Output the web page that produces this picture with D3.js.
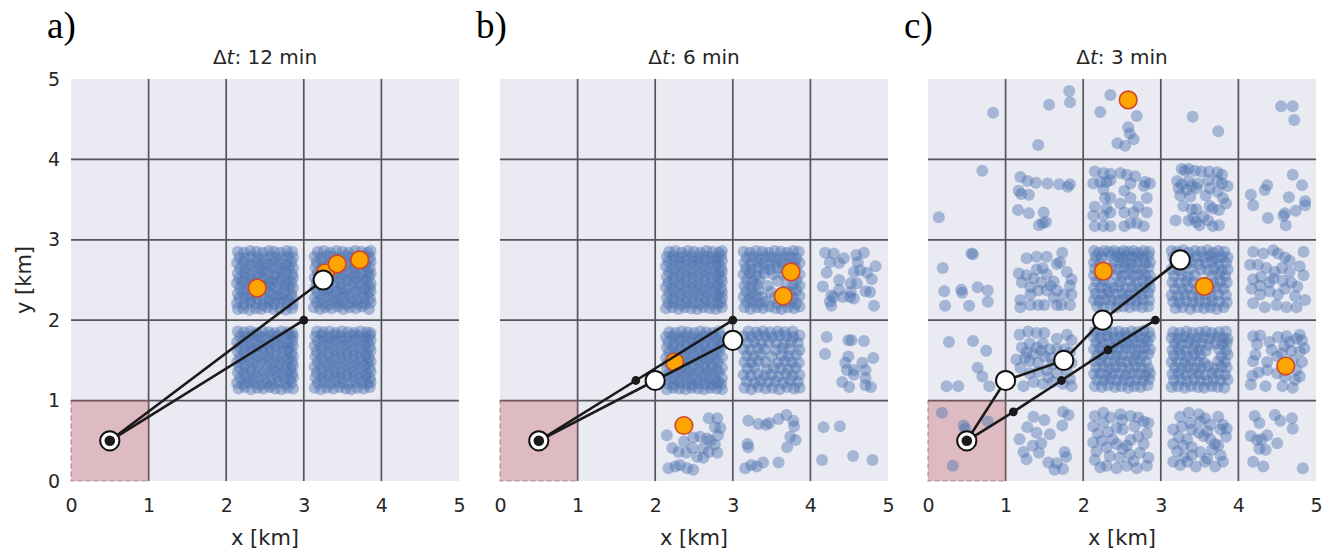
<!DOCTYPE html>
<html>
<head>
<meta charset="utf-8">
<script src="https://cdn.jsdelivr.net/npm/d3@7"></script>
<style>
body { margin: 0; background: #fff; }
text { font-family: "DejaVu Sans", sans-serif; fill: #262626; }
</style>
</head>
<body>
<svg id="chart" width="1333" height="554"></svg>
<script>
// panel captions
var panelLetters = ["a)", "b)", "c)"];
var panelTimes = ["12 min", "6 min", "3 min"];
var tickValues = [0, 1, 2, 3, 4, 5];
var gridValues = [1, 2, 3, 4];
var startCell = [0, 0];
var startPoint = [0.5, 0.5];

// paths of the two walkers (km)
var whitePaths = [
    [[0.5, 0.5], [3.25, 2.5]],
    [[0.5, 0.5], [2.0, 1.25], [3.0, 1.75]],
    [[0.5, 0.5], [1.0, 1.25], [1.75, 1.5], [2.25, 2.0], [3.25, 2.75]]
];
var blackPaths = [
    [[0.5, 0.5], [3.0, 2.0]],
    [[0.5, 0.5], [1.75, 1.25], [3.0, 2.0]],
    [[0.5, 0.5], [1.1, 0.86], [1.72, 1.25], [2.32, 1.63], [2.93, 2.0]]
];

// highlighted (orange) samples (km)
var orangeA = [[2.4, 2.4], [3.28, 2.59], [3.43, 2.7], [3.72, 2.75]];
var orangeB = [[3.75, 2.6], [3.65, 2.3], [2.25, 1.48], [2.37, 0.69]];
var orangeC = [[2.58, 4.74], [2.26, 2.61], [3.56, 2.42], [4.61, 1.43]];

// blue samples: [column, row, [dx, dy, dx, dy, ...]] offsets inside the cell in 1/100 km
var pointsA = [
 [2, 2, [15,14, 22,15, 30,13, 38,15, 45,14, 53,16, 61,14, 69,15, 77,13, 85,15,
         14,21, 23,20, 31,22, 39,21, 47,19, 55,22, 62,20, 70,22, 78,21, 86,20,
         17,27, 25,28, 32,26, 40,28, 49,27, 56,26, 64,28, 72,27, 80,26, 85,28,
         15,33, 22,34, 30,32, 38,34, 46,33, 54,35, 61,33, 69,32, 76,34, 84,33,
         18,40, 26,39, 34,41, 42,40, 50,39, 57,41, 65,40, 73,39, 81,41, 86,40,
         14,46, 21,47, 29,45, 37,47, 45,46, 53,45, 60,47, 68,46, 76,45, 84,47,
         17,52, 25,53, 33,51, 41,53, 48,52, 56,51, 64,53, 71,52, 79,51, 86,53,
         15,58, 23,59, 31,57, 39,58, 46,60, 54,58, 62,57, 70,59, 77,58, 85,57,
         18,65, 26,64, 34,66, 42,65, 50,64, 58,66, 65,65, 73,64, 81,66, 86,65,
         14,71, 22,72, 30,70, 38,72, 46,71, 53,70, 61,72, 69,71, 77,70, 84,72,
         17,78, 25,77, 33,79, 41,78, 49,77, 57,79, 64,78, 72,77, 80,79, 86,78,
         15,85, 23,84, 31,86, 39,85, 47,84, 55,86, 62,85, 70,84, 78,86, 85,85]],
 [3, 2, [13,16, 21,14, 28,16, 36,15, 44,17, 51,14, 59,16, 67,15, 75,17, 84,14,
         17,22, 25,21, 33,20, 41,22, 48,21, 56,20, 63,22, 71,21, 79,20, 86,22,
         14,28, 22,27, 30,29, 38,28, 46,27, 53,29, 61,28, 69,26, 77,28, 85,27,
         18,34, 26,35, 34,33, 42,35, 50,34, 58,33, 66,35, 74,34, 82,33, 86,36,
         15,40, 23,41, 31,39, 39,41, 47,40, 54,39, 62,41, 70,40, 78,39, 85,41,
         17,47, 25,46, 33,48, 41,47, 49,46, 57,48, 65,47, 73,46, 81,48, 86,46,
         14,53, 22,54, 30,52, 38,54, 46,53, 54,52, 62,54, 69,53, 77,52, 84,54,
         18,59, 26,58, 34,60, 42,59, 50,58, 58,60, 66,59, 74,58, 82,60, 86,58,
         15,66, 23,65, 31,67, 39,66, 47,65, 55,67, 63,66, 71,65, 79,67, 85,65,
         17,72, 25,73, 33,71, 41,73, 49,72, 57,71, 64,73, 72,72, 80,71, 86,73,
         14,79, 22,78, 30,80, 38,79, 46,78, 54,80, 62,79, 70,78, 78,80, 85,78,
         18,85, 26,86, 34,84, 42,86, 50,85, 58,84, 66,86, 74,85, 82,84, 86,86]],
 [2, 1, [16,15, 24,17, 32,14, 40,16, 48,15, 56,17, 63,15, 71,14, 79,16, 86,15,
         14,22, 22,21, 29,23, 37,22, 45,20, 52,22, 60,21, 68,23, 76,21, 84,22,
         18,28, 26,29, 34,27, 42,29, 50,28, 58,27, 66,29, 74,28, 82,27, 86,29,
         15,35, 23,34, 31,36, 39,35, 47,34, 55,36, 63,35, 71,34, 79,36, 85,34,
         17,41, 25,42, 33,40, 41,42, 52,41, 60,40, 67,42, 75,41, 83,40, 86,43,
         14,48, 22,47, 30,49, 38,48, 46,47, 54,49, 62,48, 70,47, 78,49, 85,48,
         18,54, 26,55, 34,53, 42,55, 50,54, 57,53, 65,55, 73,54, 81,53, 86,55,
         15,61, 23,60, 31,62, 39,61, 47,60, 55,62, 63,61, 71,60, 79,62, 84,60,
         17,67, 25,68, 33,66, 41,68, 49,67, 57,66, 65,68, 73,67, 81,66, 86,68,
         14,73, 22,74, 30,72, 38,74, 46,73, 54,72, 62,74, 70,73, 78,72, 85,74,
         18,80, 26,79, 34,81, 42,80, 50,79, 58,81, 66,80, 74,79, 82,81, 86,80,
         15,86, 23,85, 31,86, 39,84, 47,86, 55,85, 63,84, 71,86, 79,85, 85,84]],
 [3, 1, [14,16, 22,14, 30,16, 38,15, 46,17, 54,15, 61,14, 69,16, 77,15, 85,17,
         18,22, 26,23, 34,21, 42,23, 50,22, 58,21, 66,23, 74,22, 82,21, 86,23,
         15,29, 23,28, 31,30, 39,29, 47,28, 55,30, 63,29, 71,28, 79,30, 85,28,
         17,35, 25,36, 33,34, 41,36, 49,35, 57,34, 65,36, 73,35, 81,34, 86,36,
         14,42, 22,41, 30,43, 38,42, 46,41, 54,43, 62,42, 70,41, 78,43, 85,41,
         18,48, 26,49, 34,47, 42,49, 50,48, 58,47, 66,49, 74,48, 82,47, 86,49,
         15,55, 23,54, 31,56, 39,55, 47,54, 55,56, 63,55, 71,54, 79,56, 84,54,
         17,61, 25,62, 33,60, 41,62, 49,61, 57,60, 65,62, 73,61, 81,60, 86,62,
         14,68, 22,67, 30,69, 38,68, 46,67, 54,69, 62,68, 70,67, 78,69, 85,67,
         18,74, 26,75, 34,73, 42,75, 50,74, 58,73, 66,75, 74,74, 82,73, 86,75,
         15,80, 23,81, 31,79, 39,81, 47,80, 55,79, 63,81, 71,80, 79,79, 85,81,
         17,86, 25,85, 33,86, 41,84, 49,86, 57,85, 65,84, 73,86, 81,85, 86,84]]
];

var pointsB = [
 [2, 2, [14,15, 22,16, 30,14, 38,16, 46,15, 54,14, 62,16, 70,15, 78,14, 86,16,
         17,21, 25,22, 33,20, 41,22, 49,21, 57,20, 65,22, 73,21, 81,20, 85,22,
         15,28, 23,27, 31,29, 39,28, 47,27, 55,29, 63,28, 71,27, 79,29, 86,28,
         18,34, 26,35, 34,33, 42,35, 50,34, 58,33, 66,35, 74,34, 82,33, 86,35,
         14,41, 22,40, 30,42, 38,41, 46,40, 54,42, 62,41, 70,40, 78,42, 85,40,
         17,47, 25,48, 33,46, 41,48, 49,47, 57,46, 65,48, 73,47, 81,46, 86,48,
         15,54, 23,53, 31,55, 39,54, 47,53, 55,55, 63,54, 71,53, 79,55, 85,53,
         18,60, 26,61, 34,59, 42,61, 50,60, 58,59, 66,61, 74,60, 82,59, 86,61,
         14,67, 22,66, 30,68, 38,67, 46,66, 54,68, 62,67, 70,66, 78,68, 85,66,
         17,73, 25,74, 33,72, 41,74, 49,73, 57,72, 65,74, 73,73, 81,72, 86,74,
         15,79, 23,80, 31,78, 39,80, 47,79, 55,78, 63,80, 71,79, 79,78, 85,80,
         18,85, 26,86, 34,84, 42,86, 50,85, 58,84, 66,86, 74,85, 82,84, 86,86]],
 [3, 2, [15,16, 23,14, 31,16, 39,15, 47,17, 55,15, 63,14, 71,16, 79,15, 86,17,
         18,22, 26,23, 34,21, 42,23, 58,21, 66,23, 74,22, 82,21,
         14,29, 22,28, 30,30, 38,29, 54,28, 62,30, 70,29, 78,28, 86,30,
         17,36, 25,35, 33,37, 49,35, 66,36, 74,35, 82,37,
         15,43, 23,42, 31,44, 45,43, 70,42, 78,44, 86,43,
         18,50, 26,49, 34,51, 58,49, 82,50,
         14,57, 22,58, 30,56, 40,58, 52,57, 66,56, 74,58, 86,57,
         17,64, 25,63, 33,65, 41,64, 49,63, 57,65, 65,64, 73,63, 81,65,
         15,71, 23,70, 31,72, 39,71, 47,70, 55,72, 63,71, 71,70, 79,72, 86,71,
         18,78, 26,79, 34,77, 42,79, 50,78, 58,77, 66,79, 74,78, 82,77,
         14,85, 22,84, 30,86, 38,85, 46,84, 54,86, 62,85, 70,84, 78,86, 85,85]],
 [2, 1, [15,14, 23,16, 31,15, 39,14, 47,16, 55,15, 63,14, 71,16, 79,15, 86,14,
         17,21, 25,20, 33,22, 41,21, 49,20, 57,22, 65,21, 73,20, 81,22, 85,21,
         14,27, 22,28, 30,26, 38,28, 46,27, 54,26, 62,28, 70,27, 78,26, 86,28,
         18,34, 26,33, 34,35, 42,34, 50,33, 58,35, 66,34, 74,33, 82,35,
         15,40, 23,41, 31,39, 39,41, 47,40, 55,39, 63,41, 71,40, 79,39, 86,41,
         17,47, 25,46, 33,48, 41,47, 49,46, 57,48, 65,47, 73,46, 81,48,
         14,53, 22,54, 30,52, 38,54, 46,53, 54,52, 62,54, 70,53, 78,52, 86,54,
         18,60, 26,59, 34,61, 42,60, 50,59, 58,61, 66,60, 74,59, 82,61,
         15,66, 23,67, 31,65, 39,67, 47,66, 55,65, 63,67, 71,66, 79,65, 85,67,
         17,73, 25,72, 33,74, 41,73, 49,72, 57,74, 65,73, 73,72, 81,74, 86,72,
         14,79, 22,80, 30,78, 38,80, 46,79, 54,78, 62,80, 70,79, 78,78, 85,80,
         18,85, 26,84, 34,86, 42,85, 50,84, 58,86, 66,85, 74,84, 82,86]],
 [3, 1, [15,16, 24,14, 33,17, 42,15, 51,16, 60,14, 70,17, 79,15, 86,16,
         18,24, 28,22, 36,25, 46,23, 55,24, 65,22, 74,25, 84,23,
         14,32, 23,31, 32,33, 41,31, 50,32, 59,30, 68,33, 77,31, 86,32,
         19,40, 28,41, 44,39, 53,41, 62,40, 72,39, 81,41,
         15,48, 24,47, 33,49, 42,48, 58,47, 67,49, 76,48, 85,47,
         18,56, 27,55, 36,57, 50,55, 63,56, 72,55, 82,57,
         14,64, 23,63, 32,65, 41,64, 55,63, 64,65, 73,64, 86,63,
         19,72, 28,73, 37,71, 46,73, 56,72, 66,71, 75,73, 84,72,
         15,80, 24,79, 33,81, 42,80, 51,79, 60,81, 69,80, 78,79, 86,81,
         20,86, 30,85, 39,86, 48,85, 58,86, 67,85, 77,86]],
 [4, 2, [19,84, 30,83, 25,72, 37,71, 43,77, 59,81, 69,84, 61,72, 84,67, 21,59,
         37,50, 56,60, 64,62, 73,59, 79,51, 16,42, 52,46, 60,46, 27,31, 30,29,
         42,29, 51,29, 56,27, 71,36, 77,35, 82,18, 27,18, 25,23, 52,35, 37,38]],
 [4, 1, [21,79, 19,58, 49,75, 53,75, 69,74, 49,55, 45,47, 56,38, 67,47, 81,53,
         71,38, 41,23, 50,17, 71,28, 71,19, 78,17, 47,38, 56,32]],
 [4, 0, [17,67, 38,68, 15,26, 55,31, 80,26]],
 [3, 0, [20,75, 33,71, 43,70, 47,72, 59,77, 69,82, 78,75, 79,68, 74,55, 70,42,
         81,51, 19,46, 20,42, 59,23, 39,23, 31,18, 16,16, 24,20]],
 [2, 0, [15,57, 69,78, 80,78, 77,67, 84,66, 58,55, 67,53, 49,54, 37,49, 22,41,
         30,36, 40,35, 48,41, 62,41, 69,36, 80,35, 54,30, 62,29, 17,16, 26,18,
         32,20, 41,16, 49,14, 77,45, 71,50, 81,57]]
];

var pointsC = [
 [0, 4, [84,58]],
 [1, 4, [82,85, 83,71, 56,68, 42,18]],
 [2, 4, [35,80, 22,59, 69,54, 58,40, 65,25, 44,20, 54,17, 60,32]],
 [3, 4, [41,53, 74,35]],
 [4, 4, [55,66, 70,66, 72,49]],
 [0, 3, [70,86, 14,28]],
 [1, 3, [19,78, 28,73, 39,71, 54,70, 69,69, 83,69, 80,66, 17,61, 20,57, 30,56,
         16,37, 30,33, 49,34, 52,22, 43,18, 48,21]],
 [2, 3, [15,85, 26,83, 35,82, 48,83, 56,81, 67,79, 80,72, 86,70, 13,70, 22,72,
         30,72, 26,63, 35,52, 30,39, 26,30, 13,30, 15,17, 26,17, 35,17, 15,41,
         53,61, 61,70, 61,52, 71,41, 65,34, 82,52, 53,34, 61,21, 78,17, 82,34,
         69,21, 48,45, 35,74, 53,17, 35,34, 28,52, 78,67]],
 [3, 3, [27,88, 31,86, 36,88, 44,86, 52,85, 62,85, 73,84, 79,81, 21,73, 27,69,
         36,73, 40,67, 48,70, 61,74, 73,74, 79,70, 86,67, 23,64, 33,62, 46,64,
         63,64, 73,60, 25,55, 38,54, 80,52, 29,42, 40,38, 46,38, 63,42, 67,39,
         75,37, 19,24, 36,24, 46,22, 50,18, 61,24, 67,17, 75,18, 55,29, 42,27,
         84,45, 58,55]],
 [4, 3, [70,81, 82,68, 37,68, 34,62, 16,56, 19,43, 65,53, 86,48, 86,43, 74,36,
         60,33, 58,30, 38,27, 61,18]],
 [0, 2, [56,83, 58,82, 19,65, 21,36, 43,38, 44,34, 64,41, 77,37, 22,18, 53,18, 77,23]],
 [1, 2, [27,77, 40,79, 53,79, 73,84, 66,70, 17,58, 27,56, 21,47, 40,63, 48,65,
         53,57, 62,48, 58,43, 79,60, 85,51, 83,43, 85,32, 83,19, 72,19, 62,28,
         53,37, 42,37, 32,32, 19,25, 19,16, 32,19, 42,19, 32,41, 66,37, 46,47,
         36,52, 75,32, 66,19, 50,19, 70,72]],
 [2, 2, [14,86, 20,84, 27,86, 33,85, 40,86, 46,84, 52,86, 58,85, 65,86, 71,84, 78,86, 85,85,
         16,79, 24,78, 35,80, 44,79, 50,78, 57,80, 63,78, 70,79, 77,78, 84,80,
         14,72, 22,71, 40,73, 47,71, 55,72, 62,70, 70,73, 80,71, 86,72,
         15,64, 36,65, 45,63, 53,66, 60,64, 68,65, 76,63, 84,66,
         14,56, 22,55, 30,57, 43,56, 50,55, 57,57, 65,55, 72,57, 80,56, 86,55,
         17,48, 26,49, 34,47, 48,48, 60,49, 69,47, 77,49, 85,48,
         14,40, 23,41, 30,39, 39,40, 46,42, 55,40, 63,41, 71,39, 79,41, 86,40,
         16,33, 25,32, 33,34, 42,32, 51,33, 58,31, 67,33, 75,32, 84,34,
         14,25, 21,24, 29,26, 37,25, 45,24, 53,26, 61,25, 69,24, 77,26, 85,25,
         18,17, 26,16, 35,18, 43,16, 52,17, 60,16, 68,18, 76,16, 84,17]],
 [3, 2, [14,86, 21,85, 29,87, 36,84, 44,86, 52,85, 60,87, 67,84, 74,86, 82,85,
         16,78, 27,79, 35,77, 46,79, 55,78, 63,80, 71,77, 79,79, 86,78,
         18,71, 33,70, 41,72, 49,70, 58,71, 66,73, 74,70, 84,71,
         14,63, 24,62, 38,64, 52,63, 61,62, 69,64, 78,62, 86,63,
         17,55, 27,56, 35,54, 44,56, 66,55, 75,57, 83,55,
         15,47, 24,46, 33,48, 42,47, 68,46, 77,48, 85,47,
         18,39, 28,38, 36,40, 45,38, 63,39, 72,41, 81,39,
         14,31, 22,30, 31,32, 40,30, 49,31, 57,33, 65,30, 74,32, 84,31,
         16,23, 24,22, 33,24, 41,22, 50,24, 58,22, 66,24, 75,23, 85,22,
         19,15, 28,16, 38,14, 47,16, 56,15, 64,16, 72,14, 81,16]],
 [4, 2, [19,85, 32,83, 45,87, 51,83, 60,78, 84,85, 15,69, 25,69, 36,65, 47,60,
         56,65, 66,60, 79,67, 84,56, 19,51, 29,54, 40,47, 57,49, 68,47, 76,42,
         17,39, 28,32, 40,36, 51,32, 60,39, 73,30, 86,25, 19,21, 34,16, 49,19,
         62,16, 75,16, 45,52, 66,74, 28,43]],
 [0, 1, [27,73, 58,74, 75,62, 64,41, 70,30, 79,18, 24,18, 39,18]],
 [1, 1, [18,82, 29,86, 40,84, 50,84, 66,77, 79,82, 85,75, 21,66, 31,71, 40,66,
         48,71, 57,64, 66,64, 76,64, 83,60, 14,51, 25,53, 31,49, 42,47, 50,55,
         59,53, 85,47, 19,41, 31,34, 42,36, 53,38, 66,34, 79,36, 83,27, 36,23,
         48,21, 61,23, 74,21, 85,18, 23,18, 27,60, 46,62, 70,47, 79,53, 55,29,
         60,45, 36,58]],
 [2, 1, [15,86, 23,85, 30,87, 38,85, 46,86, 54,84, 62,86, 70,85, 78,87, 85,85,
         14,79, 22,78, 31,80, 40,78, 48,79, 56,80, 64,78, 72,79, 80,77, 86,79,
         17,72, 26,71, 34,73, 43,71, 51,72, 59,70, 67,72, 75,71, 83,73,
         14,64, 22,65, 30,63, 38,65, 47,64, 55,66, 63,64, 71,63, 79,65, 86,64,
         18,57, 26,56, 35,58, 43,56, 51,57, 60,55, 68,57, 76,56, 84,58,
         15,49, 23,50, 31,48, 40,50, 48,49, 56,48, 65,50, 73,49, 81,48,
         17,41, 26,42, 34,40, 42,42, 50,41, 59,40, 67,42, 75,41, 84,40,
         14,33, 22,34, 30,32, 38,34, 47,33, 55,32, 63,34, 72,33, 80,32, 86,34,
         18,26, 27,25, 35,27, 43,25, 52,26, 60,24, 68,26, 77,25, 85,27,
         15,18, 24,17, 32,19, 41,17, 49,18, 58,16, 66,18, 74,17, 83,19]],
 [3, 1, [16,85, 24,84, 33,86, 41,84, 50,85, 58,86, 66,84, 75,85, 84,86,
         14,78, 22,77, 30,79, 38,77, 47,78, 55,79, 63,77, 72,79, 80,78, 86,77,
         18,71, 27,70, 35,72, 44,70, 52,71, 61,69, 70,71, 79,70, 85,72,
         15,63, 23,64, 32,62, 41,64, 49,63, 58,62, 75,64, 84,63,
         17,56, 26,57, 34,55, 43,57, 51,56, 78,55, 86,57,
         14,48, 22,49, 31,47, 39,49, 48,48, 56,47, 74,49, 83,48,
         18,41, 27,40, 35,42, 44,40, 52,41, 61,43, 69,40, 78,42, 85,41,
         15,33, 23,34, 32,32, 40,34, 49,33, 57,32, 66,34, 74,33, 83,32,
         17,25, 26,26, 34,24, 43,26, 51,25, 60,24, 68,26, 77,25, 86,26,
         14,17, 22,18, 31,16, 39,18, 48,17, 56,16, 65,18, 73,17, 82,16]],
 [4, 1, [19,80, 28,81, 24,70, 40,73, 43,63, 22,57, 19,49, 37,48, 18,31, 26,35,
         37,38, 35,18, 16,20, 57,18, 70,16, 73,26, 79,30, 75,38, 82,48, 79,61,
         85,65, 82,75, 75,77, 66,73, 68,62, 59,68, 56,59, 50,55, 51,79, 62,80,
         79,82, 70,50, 50,34, 60,30]],
 [0, 0, [18,85, 46,69, 48,65, 77,74, 32,19]],
 [1, 0, [36,80, 81,82, 28,67, 40,60, 73,69, 46,47, 23,36, 27,27, 43,35, 55,23,
         66,22, 76,36, 74,15, 63,14, 74,86, 78,30, 35,44, 57,58, 18,52, 50,76]],
 [2, 0, [15,81, 26,85, 35,79, 48,83, 61,81, 71,79, 78,74, 84,72, 13,68, 19,59,
         13,48, 17,37, 15,26, 22,17, 32,61, 43,66, 51,64, 66,68, 82,59, 71,55,
         61,51, 43,46, 30,42, 34,31, 47,29, 60,33, 73,35, 84,29, 30,19, 43,16,
         56,19, 69,16, 82,19, 51,40, 26,72, 78,46, 24,50, 50,76, 38,52, 65,25, 56,44]],
 [3, 0, [25,80, 36,85, 49,83, 57,78, 74,80, 80,70, 16,64, 27,68, 38,72, 51,74,
         64,70, 77,64, 85,65, 23,55, 34,52, 29,44, 40,42, 55,56, 64,52, 70,46,
         74,44, 66,39, 21,37, 40,32, 51,36, 77,32, 16,24, 34,24, 60,28, 80,24,
         25,20, 49,60, 16,46, 57,24, 40,64, 45,18, 70,18, 30,30, 84,55, 60,62]],
 [4, 0, [21,81, 47,82, 54,75, 69,78, 70,65, 27,72, 16,56, 24,51, 30,52, 37,57,
         50,47, 27,40, 19,24, 32,18, 83,16, 35,39]]
];

var panelPoints = [pointsA, pointsB, pointsC];
var panelOrange = [orangeA, orangeB, orangeC];

var svg = d3.select("#chart");
var panelLeft = [71, 500, 928];
var plotW = 388, plotTop = 79, plotBottom = 481;

// turn cell lists into [x, y] km points
function cellPoints(cells) {
    var out = [];
    cells.forEach(function (c) {
        var offs = c[2];
        for (var i = 0; i < offs.length; i += 2) {
            out.push([c[0] + offs[i] / 100, c[1] + offs[i + 1] / 100]);
        }
    });
    return out;
}

panelLeft.forEach(function (left, p) {
    var x = d3.scaleLinear().domain([0, 5]).range([left, left + plotW]);
    var y = d3.scaleLinear().domain([0, 5]).range([plotBottom, plotTop]);
    var g = svg.append("g");

    // background
    g.append("rect")
        .attr("x", x(0)).attr("y", y(5))
        .attr("width", x(5) - x(0)).attr("height", y(0) - y(5))
        .attr("fill", "#eaeaf2");

    // grid
    g.selectAll(".vg").data(gridValues).enter().append("line")
        .attr("x1", function (d) { return x(d); }).attr("x2", function (d) { return x(d); })
        .attr("y1", y(0)).attr("y2", y(5))
        .attr("stroke", "#55555d").attr("stroke-width", 1.7);
    g.selectAll(".hg").data(gridValues).enter().append("line")
        .attr("y1", function (d) { return y(d); }).attr("y2", function (d) { return y(d); })
        .attr("x1", x(0)).attr("x2", x(5))
        .attr("stroke", "#55555d").attr("stroke-width", 1.7);

    // start cell
    g.append("rect")
        .attr("x", x(startCell[0])).attr("y", y(startCell[1] + 1))
        .attr("width", x(1) - x(0)).attr("height", y(0) - y(1))
        .attr("fill", "#c44e52").attr("fill-opacity", 0.3)
        .attr("stroke", "#8c5a62").attr("stroke-opacity", 0.6)
        .attr("stroke-width", 1.2).attr("stroke-dasharray", "5,3");

    // blue samples
    g.selectAll(".pt").data(cellPoints(panelPoints[p])).enter().append("circle")
        .attr("cx", function (d) { return x(d[0]); })
        .attr("cy", function (d) { return y(d[1]); })
        .attr("r", 6)
        .attr("fill", "#4c72b0").attr("fill-opacity", 0.44);

    // orange samples
    g.selectAll(".or").data(panelOrange[p]).enter().append("circle")
        .attr("cx", function (d) { return x(d[0]); })
        .attr("cy", function (d) { return y(d[1]); })
        .attr("r", 8.8)
        .attr("fill", "#ffa500").attr("stroke", "#d2452a").attr("stroke-width", 1.6);

    var line = d3.line().x(function (d) { return x(d[0]); }).y(function (d) { return y(d[1]); });
    [whitePaths[p], blackPaths[p]].forEach(function (path) {
        g.append("path").attr("d", line(path))
            .attr("fill", "none").attr("stroke", "#1a1a1a").attr("stroke-width", 2.6);
    });

    // markers
    g.selectAll(".wm").data(whitePaths[p]).enter().append("circle")
        .attr("cx", function (d) { return x(d[0]); })
        .attr("cy", function (d) { return y(d[1]); })
        .attr("r", 9.6)
        .attr("fill", "#fff").attr("stroke", "#111").attr("stroke-width", 2);
    g.selectAll(".bm").data(blackPaths[p]).enter().append("circle")
        .attr("cx", function (d) { return x(d[0]); })
        .attr("cy", function (d) { return y(d[1]); })
        .attr("r", function (d, i) { return i === 0 ? 5.3 : 4.4; })
        .attr("fill", "#1a1a1a");

    // x axis
    var xa = g.append("g").attr("transform", "translate(0," + plotBottom + ")")
        .call(d3.axisBottom(x).tickValues(tickValues).tickSize(0).tickPadding(18).tickFormat(d3.format("d")));
    xa.select(".domain").remove();
    xa.selectAll("text").attr("font-size", 19).attr("font-family", "DejaVu Sans").attr("fill", "#262626");

    if (p === 0) {
        var ya = g.append("g").attr("transform", "translate(" + left + ",0)")
            .call(d3.axisLeft(y).tickValues(tickValues).tickSize(0).tickPadding(11).tickFormat(d3.format("d")));
        ya.select(".domain").remove();
        ya.selectAll("text").attr("font-size", 19).attr("font-family", "DejaVu Sans").attr("fill", "#262626");
        svg.append("text")
            .attr("transform", "translate(31," + ((plotTop + plotBottom) / 2) + ") rotate(-90)")
            .attr("text-anchor", "middle")
            .attr("font-size", 21)
            .text("y [km]");
    }

    svg.append("text")
        .attr("x", x(2.5)).attr("y", 545)
        .attr("text-anchor", "middle").attr("font-size", 21)
        .text("x [km]");

    var title = svg.append("text")
        .attr("x", x(2.5)).attr("y", 64)
        .attr("text-anchor", "middle").attr("font-size", 20);
    title.append("tspan").text("Δ");
    title.append("tspan").attr("font-style", "italic").text("t");
    title.append("tspan").text(": " + panelTimes[p]);

    svg.append("text")
        .attr("x", left - 24).attr("y", 38)
        .style("font-family", "'Liberation Serif', 'DejaVu Serif', serif")
        .style("fill", "#000")
        .attr("font-size", 37)
        .text(panelLetters[p]);
});
</script>
</body>
</html>
